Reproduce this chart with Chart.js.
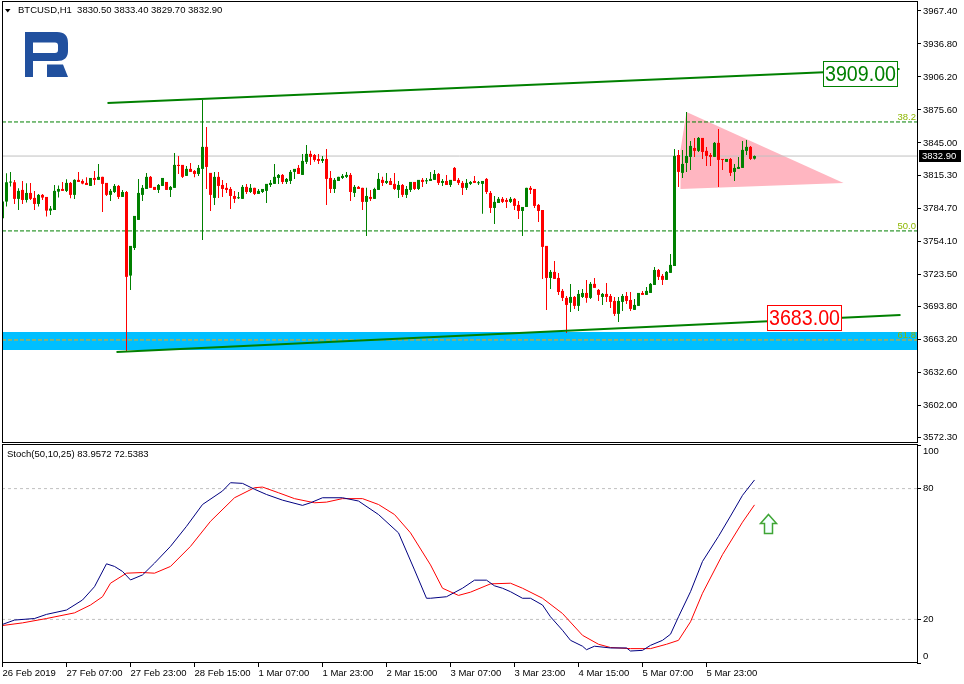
<!DOCTYPE html>
<html>
<head>
<meta charset="utf-8">
<title>BTCUSD H1</title>
<script src="https://cdn.jsdelivr.net/npm/chart.js"></script>
<style>
  html, body { margin: 0; padding: 0; background: #fff; }
  #wrap { position: relative; width: 964px; height: 684px; overflow: hidden; }
  canvas { position: absolute; left: 0; }
  #priceCanvas { top: 0; }
  #stochCanvas { top: 444px; }
</style>
</head>
<body>
<div id="wrap">
  <canvas id="priceCanvas" width="964" height="444"></canvas>
  <canvas id="stochCanvas" width="964" height="240"></canvas>
</div>
<script>
// ============================================================
// BTCUSD H1 — candles + Stochastic (Chart.js)
// ============================================================

const FONT  = '"Liberation Sans", Arial, sans-serif';
const GREEN = '#008000';
const RED   = '#FF0000';

// ---- Hourly candles, 26 Feb 15:00 -> 6 Mar 11:00 ----
const opens = [
  3775.2,3790.7,3808.3,3808.6,3793.2,3801.5,3792.2,3798.7,3794.1,3788.5,
  3796.9,3795.0,3782.3,3782.9,3799.9,3802.4,3800.6,3808.0,3796.9,3810.8,
  3809.8,3808.0,3805.2,3812.6,3810.8,3813.6,3808.0,3796.9,3799.6,3805.2,
  3795.0,3799.6,3722.1,3747.7,3773.7,3796.9,3802.4,3813.6,3804.3,3801.5,
  3805.2,3808.9,3801.5,3803.4,3824.7,3824.7,3814.5,3821.0,3819.1,3816.3,
  3821.0,3841.4,3817.3,3794.1,3813.6,3806.1,3803.4,3802.4,3795.9,3793.8,
  3793.2,3804.3,3799.6,3803.4,3797.8,3799.6,3800.6,3806.1,3807.1,3812.6,
  3815.4,3808.9,3809.8,3818.2,3821.9,3815.4,3827.5,3834.9,3833.9,3830.2,
  3828.4,3830.2,3812.6,3802.4,3809.8,3812.6,3813.6,3815.4,3798.7,3804.3,
  3803.4,3790.4,3795.0,3793.2,3801.5,3810.8,3808.0,3809.8,3807.1,3801.5,
  3806.1,3796.9,3801.5,3808.9,3802.4,3810.8,3809.5,3809.8,3810.8,3816.3,
  3808.0,3809.8,3806.1,3821.9,3810.8,3808.0,3803.4,3807.1,3809.8,3807.7,
  3807.1,3811.7,3798.7,3784.8,3789.4,3793.2,3792.2,3790.4,3793.2,3787.6,
  3782.0,3785.7,3803.4,3802.4,3787.6,3782.9,3749.6,3719.9,3725.5,3719.9,
  3707.9,3701.4,3696.8,3702.3,3694.0,3702.3,3706.0,3701.4,3714.4,3708.8,
  3702.3,3705.1,3703.2,3698.6,3686.6,3697.7,3703.2,3699.5,3690.3,3694.0,
  3706.0,3704.2,3706.0,3713.4,3727.3,3721.8,3718.1,3724.6,3731.0,3833.9,
  3817.3,3826.5,3832.1,3840.4,3837.7,3849.7,3837.7,3833.9,3832.1,3845.1,
  3830.2,3827.5,3830.2,3818.2,3821.0,3821.9,3837.7,3841.4,3830.5
];
const highs = [
  3792.2,3817.0,3818.2,3810.8,3803.0,3809.8,3807.7,3808.0,3800.6,3797.8,
  3797.8,3795.0,3786.7,3806.1,3805.5,3808.9,3811.4,3808.9,3811.4,3818.2,
  3811.4,3813.2,3812.6,3819.1,3825.6,3813.6,3808.0,3802.4,3807.1,3806.1,
  3801.5,3800.6,3749.6,3777.4,3811.7,3806.1,3817.3,3814.5,3804.3,3807.1,
  3812.6,3808.9,3805.2,3835.8,3833.0,3824.7,3823.7,3826.5,3820.0,3824.7,
  3884.9,3859.9,3817.3,3818.2,3818.2,3810.8,3808.0,3804.3,3800.6,3799.6,
  3806.1,3807.1,3807.1,3803.4,3802.4,3802.4,3807.1,3810.8,3825.6,3816.3,
  3816.3,3812.6,3820.0,3821.0,3824.7,3834.9,3843.2,3837.7,3834.9,3834.9,
  3833.0,3839.5,3819.1,3812.6,3813.6,3816.3,3818.2,3817.3,3806.1,3805.2,
  3803.4,3803.4,3801.5,3803.4,3817.3,3813.6,3817.3,3812.6,3817.3,3809.8,
  3807.1,3805.2,3808.9,3808.9,3810.8,3812.6,3812.6,3818.2,3820.0,3817.3,
  3811.7,3815.4,3810.8,3822.8,3812.6,3809.8,3811.7,3809.8,3814.5,3809.8,
  3809.8,3812.6,3800.6,3795.9,3795.0,3795.0,3794.1,3795.0,3794.1,3791.3,
  3785.7,3803.4,3805.2,3802.4,3788.5,3782.9,3749.6,3727.3,3735.7,3724.6,
  3709.7,3703.2,3714.4,3703.2,3708.8,3709.7,3718.1,3716.2,3719.9,3709.7,
  3706.0,3715.3,3705.1,3702.3,3702.3,3705.1,3706.9,3706.9,3700.5,3706.0,
  3707.9,3711.6,3715.3,3730.1,3728.3,3723.6,3726.4,3742.2,3839.5,3838.6,
  3838.6,3873.8,3846.9,3849.7,3850.6,3849.7,3841.4,3835.8,3846.0,3858.0,
  3830.2,3830.2,3831.2,3825.6,3832.1,3846.9,3847.8,3842.3,3833.4
];
const lows = [
  3773.7,3786.1,3804.6,3788.5,3782.9,3788.5,3789.8,3792.2,3782.9,3786.1,
  3792.2,3776.8,3778.3,3782.9,3794.4,3800.6,3799.6,3793.8,3793.2,3808.9,
  3806.8,3806.1,3805.2,3806.1,3810.8,3781.1,3795.9,3791.3,3798.7,3793.2,
  3795.0,3651.6,3708.8,3745.9,3773.7,3791.3,3802.4,3803.4,3801.5,3798.7,
  3805.2,3801.5,3795.0,3803.4,3816.3,3812.6,3814.5,3818.2,3813.2,3814.5,
  3755.1,3802.4,3782.0,3787.6,3794.1,3795.0,3798.7,3783.9,3789.4,3793.2,
  3793.2,3797.8,3798.7,3796.9,3797.8,3798.7,3789.4,3804.3,3807.1,3807.1,
  3807.1,3807.1,3807.1,3811.7,3816.3,3815.4,3825.6,3824.7,3827.5,3825.6,
  3826.5,3787.6,3798.7,3798.7,3809.8,3811.7,3812.6,3791.3,3795.0,3802.4,
  3782.9,3758.9,3791.3,3793.2,3801.5,3805.2,3807.1,3806.1,3801.5,3794.1,
  3795.0,3794.1,3799.6,3801.5,3801.5,3804.3,3807.1,3809.8,3810.8,3806.1,
  3805.2,3806.1,3804.3,3809.8,3806.1,3796.9,3801.5,3806.1,3808.0,3806.1,
  3779.3,3797.8,3780.2,3770.0,3789.4,3789.4,3784.8,3789.4,3782.9,3774.6,
  3758.9,3785.7,3797.8,3784.8,3771.8,3719.0,3690.3,3709.7,3719.0,3704.2,
  3698.6,3668.9,3688.4,3691.2,3689.3,3701.4,3696.8,3700.5,3710.7,3698.6,
  3694.9,3697.7,3692.1,3684.7,3679.1,3689.3,3695.8,3689.3,3690.3,3694.0,
  3704.2,3704.2,3706.0,3713.4,3718.1,3713.4,3718.1,3724.6,3731.0,3804.3,
  3812.6,3818.2,3820.0,3832.1,3836.7,3830.2,3823.7,3823.7,3832.1,3804.3,
  3820.0,3827.5,3814.5,3809.8,3821.0,3821.9,3833.9,3829.3,3829.7
];
const closes = [
  3790.7,3808.6,3808.9,3793.2,3800.6,3792.2,3798.7,3793.2,3788.5,3796.9,
  3794.4,3782.3,3784.2,3800.6,3802.4,3800.6,3808.0,3796.9,3810.8,3808.9,
  3807.4,3806.1,3812.6,3810.8,3813.6,3807.1,3796.9,3800.6,3805.2,3795.0,
  3799.6,3720.9,3749.6,3777.4,3798.7,3803.4,3813.6,3803.4,3801.5,3806.1,
  3812.6,3801.5,3804.3,3824.7,3823.7,3813.6,3821.0,3818.2,3816.3,3821.9,
  3841.4,3822.8,3796.9,3813.6,3805.2,3802.4,3801.5,3795.9,3793.2,3794.1,
  3804.3,3799.6,3803.4,3797.8,3800.6,3802.4,3807.1,3808.0,3813.6,3815.4,
  3808.9,3811.7,3818.2,3821.0,3816.3,3828.4,3834.9,3832.1,3829.3,3828.4,
  3830.2,3811.7,3802.4,3810.8,3813.6,3814.5,3815.4,3799.6,3804.3,3802.4,
  3790.4,3795.9,3793.2,3802.4,3811.7,3808.0,3809.8,3806.1,3802.4,3806.1,
  3796.9,3802.4,3808.9,3802.4,3810.8,3808.9,3810.5,3811.7,3816.3,3808.0,
  3809.8,3806.1,3810.8,3809.8,3808.0,3803.4,3808.0,3808.9,3808.0,3808.3,
  3809.8,3799.6,3784.8,3790.4,3793.2,3790.4,3790.4,3793.2,3786.7,3782.0,
  3785.7,3803.4,3801.5,3786.7,3782.0,3748.7,3719.9,3725.5,3719.0,3706.9,
  3701.4,3694.9,3702.3,3694.0,3705.1,3706.0,3701.4,3714.4,3710.7,3704.2,
  3705.1,3702.3,3697.7,3686.6,3698.6,3703.2,3698.6,3691.2,3694.9,3706.0,
  3704.2,3707.9,3714.4,3727.3,3720.9,3718.1,3725.5,3732.0,3833.0,3818.2,
  3825.6,3833.0,3842.3,3837.7,3849.7,3836.7,3833.0,3832.1,3845.1,3829.3,
  3829.3,3830.2,3817.3,3821.9,3822.8,3838.6,3841.4,3830.2,3832.9
];

// ---- Axes ----
const priceTicks = [3967.4, 3936.8, 3906.2, 3875.6, 3845.0, 3815.3, 3784.7,
                    3754.1, 3723.5, 3693.8, 3663.2, 3632.6, 3602.0, 3572.3];
const timeTickBars = [0, 16, 32, 48, 64, 80, 96, 112, 128, 144, 160, 176];
const timeTickLabels = ['26 Feb 2019', '27 Feb 07:00', '27 Feb 23:00', '28 Feb 15:00',
                        '1 Mar 07:00', '1 Mar 23:00', '2 Mar 15:00', '3 Mar 07:00',
                        '3 Mar 23:00', '4 Mar 15:00', '5 Mar 07:00', '5 Mar 23:00'];
const stochTicks = [0, 20, 80, 100];

// ---- Stochastic(50,10,25) ----
const mainBars = [0,3,8,11,16,20,23,26,28,30,32,35,38,42,46,50,55,57,60,63,
                  66,70,75,77,80,85,89,94,99,103,106,107,111,115,118,121,123,125,127,130,
                  132,135,137,140,142,145,146,148,152,156,157,160,162,165,167,169,172,175,179,182,
                  185,188];
const mainVals = [17.7,19.7,20.4,22.3,24.3,28.9,35.0,45.5,44.3,42.0,38.1,40.4,45.8,53.5,62.7,72.7,78.9,82.7,82.4,79.7,
                  77.3,74.7,72.3,73.5,75.8,75.8,74.3,68.1,59.7,42.7,29.7,29.7,30.4,34.3,38.0,38.0,35.4,34.3,32.7,29.7,
                  29.7,26.6,21.2,15.0,10.4,7.7,6.1,7.7,6.9,6.9,5.5,5.8,8.1,10.4,13.2,21.2,32.7,46.6,58.1,67.4,
                  76.9,83.96];
const signalBars = [0,5,11,18,22,25,27,31,35,38,42,47,52,58,63,65,69,73,78,81,
                    85,90,94,98,102,107,110,114,117,122,127,130,135,140,145,149,152,157,162,166,
                    169,172,175,180,185,188];
const signalVals = [17.2,18.4,20.4,23.0,26.6,30.4,36.6,41.2,41.5,41.2,44.3,53.5,65.0,75.8,80.4,80.7,78.1,75.4,73.5,73.8,
                    75.4,75.4,72.7,68.1,59.7,45.0,34.3,31.0,32.5,36.3,36.6,34.3,29.7,22.7,12.7,8.6,7.1,6.6,6.6,8.6,
                    10.4,18.9,32.0,49.7,64.6,72.54];
const stochLevels = [20, 80];

// ---- Drawn objects (bar index / price) ----
const fibLevels = [38.2, 50.0, 61.8];
const fibPrices = [3864.5, 3763.5, 3662.4];
const fibColors = [GREEN, GREEN, '#FFA500'];
const upperTrendBars = [26.25, 224.25];
const upperTrendPrices = [3882.1, 3913.6];
const lowerTrendBars = [28.5, 224.5];
const lowerTrendPrices = [3651.3, 3685.6];
const bandPrices = [3653.1, 3669.8];
const triangleBars = [171, 169.5, 169.5, 210.25];
const trianglePrices = [3873.8, 3838.5, 3802.4, 3807.9];
const levelBoxBars = [205, 191.1];
const levelBoxPrices = [3909.0, 3683.0];
const levelBoxColors = [GREEN, RED];
const lastPrice = closes[closes.length - 1];

// scale extents
const X_MIN = -0.125, X_MAX = 228.625;
const PRICE_MIN = 3566.9, PRICE_MAX = 3975.7;

const barIdx = opens.map((o, i) => i);
const candleColors = barIdx.map(i => closes[i] >= opens[i] ? GREEN : RED);

function fixedAxis(size, vertical) {
  return scale => {
    if (vertical) scale.width = size; else scale.height = size;
    scale.paddingTop = scale.paddingBottom = scale.paddingLeft = scale.paddingRight = 0;
  };
}

function hLine(value, color, dash, order) {
  return {
    type: 'line', data: [{ x: X_MIN, y: value }, { x: X_MAX, y: value }],
    borderColor: color, borderWidth: 1, borderDash: dash, pointRadius: 0, fill: false, order
  };
}

function frame(ctx, a) {
  ctx.save();
  ctx.strokeStyle = '#000';
  ctx.lineWidth = 1;
  ctx.strokeRect(a.left + 0.5, a.top - 0.5, a.right - a.left, a.bottom - a.top);
  ctx.restore();
}

// ---- Price panel decorations ----
const priceDecor = {
  id: 'priceDecor',
  beforeDatasetsDraw(chart) {
    const { ctx, chartArea: a, scales: { x, y } } = chart;
    ctx.save();
    ctx.beginPath();
    ctx.rect(a.left, a.top, a.right - a.left, a.bottom - a.top);
    ctx.clip();

    const yTop = Math.round(y.getPixelForValue(bandPrices[1]));
    const yBot = Math.round(y.getPixelForValue(bandPrices[0]));
    ctx.fillStyle = '#00BFFF';
    ctx.fillRect(a.left, yTop, a.right - a.left, yBot - yTop);

    ctx.fillStyle = '#FFB6C1';
    ctx.beginPath();
    triangleBars.forEach((b, k) => {
      const px = x.getPixelForValue(b), py = y.getPixelForValue(trianglePrices[k]);
      k ? ctx.lineTo(px, py) : ctx.moveTo(px, py);
    });
    ctx.closePath();
    ctx.fill();

    // broker logo
    ctx.fillStyle = '#21509E';
    ctx.beginPath();
    ctx.moveTo(25, 32); ctx.lineTo(57, 32);
    ctx.quadraticCurveTo(68, 32, 68, 43);
    ctx.lineTo(68, 51);
    ctx.quadraticCurveTo(68, 61, 57, 61);
    ctx.lineTo(33, 61); ctx.lineTo(33, 77); ctx.lineTo(25, 77);
    ctx.closePath();
    ctx.moveTo(33, 42.5); ctx.lineTo(55, 42.5);
    ctx.quadraticCurveTo(58, 42.5, 58, 45.5);
    ctx.lineTo(58, 50); ctx.quadraticCurveTo(58, 53, 55, 53);
    ctx.lineTo(33, 53); ctx.closePath();
    ctx.fill('evenodd');
    ctx.beginPath();
    ctx.moveTo(47, 64.5); ctx.lineTo(63, 64.5); ctx.lineTo(68, 77); ctx.lineTo(47, 77);
    ctx.closePath();
    ctx.fill();
    ctx.restore();
  },
  afterDatasetsDraw(chart) {
    const { ctx, chartArea: a, scales: { x, y } } = chart;
    ctx.save();
    ctx.font = `9.5px ${FONT}`;
    ctx.textAlign = 'right';
    ctx.textBaseline = 'alphabetic';
    ctx.fillStyle = '#8DB600';
    fibLevels.forEach((lv, k) => {
      ctx.fillText(lv.toFixed(1), a.right - 1, y.getPixelForValue(fibPrices[k]) - 2);
    });

    levelBoxBars.forEach((b, k) => {
      const left = Math.round(x.getPixelForValue(b)) + 0.5;
      const cy = y.getPixelForValue(levelBoxPrices[k]);
      const top = Math.round(cy - 12.5) + 0.5;
      ctx.fillStyle = '#fff';
      ctx.fillRect(left, top, 74, 25);
      ctx.strokeStyle = levelBoxColors[k];
      ctx.lineWidth = 1;
      ctx.strokeRect(left, top, 74, 25);
      ctx.fillStyle = levelBoxColors[k];
      ctx.font = `22px ${FONT}`;
      ctx.textAlign = 'center';
      ctx.textBaseline = 'middle';
      ctx.fillText(levelBoxPrices[k].toFixed(2), left + 37, top + 13.5, 71);
    });
    ctx.restore();
  },
  afterDraw(chart) {
    const { ctx, chartArea: a, scales: { y } } = chart;
    frame(ctx, a);
    ctx.save();
    // symbol header
    ctx.fillStyle = '#000';
    ctx.beginPath();
    ctx.moveTo(5, 9); ctx.lineTo(10.5, 9); ctx.lineTo(7.75, 12.5);
    ctx.closePath();
    ctx.fill();
    const n = closes.length - 1;
    ctx.font = `9.5px ${FONT}`;
    ctx.textBaseline = 'middle';
    ctx.fillText(`BTCUSD,H1  ${opens[n].toFixed(2)} ${highs[n].toFixed(2)} ${lows[n].toFixed(2)} ${closes[n].toFixed(2)}`, 18, 10.5);
    // last price tag
    const py = Math.round(y.getPixelForValue(lastPrice));
    ctx.fillStyle = '#000';
    ctx.fillRect(919, py - 6, 42, 12);
    ctx.fillStyle = '#fff';
    ctx.fillText(lastPrice.toFixed(2), 922, py + 0.5);
    ctx.restore();
  }
};

new Chart(document.getElementById('priceCanvas'), {
  type: 'bar',
  data: {
    datasets: [
      {
        type: 'line', data: upperTrendBars.map((b, k) => ({ x: b, y: upperTrendPrices[k] })),
        borderColor: GREEN, borderWidth: 2, pointRadius: 0, fill: false, order: 0
      },
      {
        type: 'line', data: lowerTrendBars.map((b, k) => ({ x: b, y: lowerTrendPrices[k] })),
        borderColor: GREEN, borderWidth: 2, pointRadius: 0, fill: false, order: 0
      },
      {
        data: barIdx.map(i => ({ x: i, y: [opens[i], closes[i]] })),
        backgroundColor: candleColors, barThickness: 3, maxBarThickness: 3,
        grouped: false, inflateAmount: 0, borderWidth: 0, minBarLength: 1, order: 1
      },
      {
        data: barIdx.map(i => ({ x: i, y: [lows[i], highs[i]] })),
        backgroundColor: candleColors, barThickness: 1, maxBarThickness: 1,
        grouped: false, inflateAmount: 0, borderWidth: 0, order: 2
      },
      ...fibPrices.map((p, k) => hLine(p, fibColors[k], [4, 2], 3)),
      hLine(lastPrice, '#C0C0C0', [], 4)
    ]
  },
  options: {
    responsive: false,
    animation: false,
    devicePixelRatio: 1,
    events: [],
    layout: { padding: { left: 2, top: 2, right: 0, bottom: 1 } },
    plugins: { legend: { display: false }, tooltip: { enabled: false } },
    scales: {
      x: { type: 'linear', display: false, min: X_MIN, max: X_MAX, offset: false },
      y: {
        type: 'linear', position: 'right', min: PRICE_MIN, max: PRICE_MAX,
        afterBuildTicks: s => { s.ticks = priceTicks.map(v => ({ value: v })); },
        afterFit: fixedAxis(47, true),
        grid: { drawOnChartArea: false, drawTicks: true, tickLength: 4, color: '#000' },
        border: { display: false },
        ticks: { color: '#000', padding: 2, font: { family: FONT, size: 9.5 }, callback: v => v.toFixed(2) }
      }
    }
  },
  plugins: [priceDecor]
});

// ---- Stochastic panel ----
const arrowBar = 191.25, arrowValue = 68.5;

const stochDecor = {
  id: 'stochDecor',
  afterDraw(chart) {
    const { ctx, chartArea: a, scales: { x, y } } = chart;
    frame(ctx, a);
    ctx.save();
    ctx.fillStyle = '#000';
    ctx.font = `9.5px ${FONT}`;
    ctx.textBaseline = 'middle';
    ctx.fillText('Stoch(50,10,25) 83.9572 72.5383', 7, 10);

    const tx = Math.round(x.getPixelForValue(arrowBar)) + 0.5;
    const ty = Math.round(y.getPixelForValue(arrowValue)) + 0.5;
    ctx.beginPath();
    ctx.moveTo(tx, ty);
    ctx.lineTo(tx + 8, ty + 9);
    ctx.lineTo(tx + 4, ty + 9);
    ctx.lineTo(tx + 4, ty + 19);
    ctx.lineTo(tx - 4, ty + 19);
    ctx.lineTo(tx - 4, ty + 9);
    ctx.lineTo(tx - 8, ty + 9);
    ctx.closePath();
    ctx.fillStyle = '#F4FFFF';
    ctx.fill();
    ctx.strokeStyle = '#3FA535';
    ctx.lineWidth = 1.5;
    ctx.stroke();
    ctx.restore();
  }
};

new Chart(document.getElementById('stochCanvas'), {
  type: 'line',
  data: {
    datasets: [
      {
        data: mainBars.map((b, k) => ({ x: b, y: mainVals[k] })),
        borderColor: '#000080', borderWidth: 1, pointRadius: 0, fill: false, order: 0
      },
      {
        data: signalBars.map((b, k) => ({ x: b, y: signalVals[k] })),
        borderColor: RED, borderWidth: 1, pointRadius: 0, fill: false, order: 1
      },
      ...stochLevels.map(v => hLine(v, '#C0C0C0', [3, 3], 2))
    ]
  },
  options: {
    responsive: false,
    animation: false,
    devicePixelRatio: 1,
    events: [],
    layout: { padding: { left: 2, top: 1, right: 0, bottom: 0 } },
    plugins: { legend: { display: false }, tooltip: { enabled: false } },
    scales: {
      x: {
        type: 'linear', position: 'bottom', min: X_MIN, max: X_MAX, offset: false,
        afterBuildTicks: s => { s.ticks = timeTickBars.map(v => ({ value: v })); },
        afterFit: fixedAxis(21, false),
        grid: { drawOnChartArea: false, drawTicks: true, tickLength: 4, color: '#000' },
        border: { display: false },
        ticks: {
          color: '#000', padding: 1, align: 'start', autoSkip: false, maxRotation: 0, minRotation: 0,
          font: { family: FONT, size: 9.5 },
          callback: v => timeTickLabels[timeTickBars.indexOf(v)]
        }
      },
      y: {
        type: 'linear', position: 'right', min: 0, max: 100,
        afterBuildTicks: s => { s.ticks = stochTicks.map(v => ({ value: v })); },
        afterFit: fixedAxis(47, true),
        grid: { drawOnChartArea: false, drawTicks: true, tickLength: 4, color: '#000' },
        border: { display: false },
        ticks: {
          color: '#000', padding: 2, font: { family: FONT, size: 9.5, lineHeight: 1.4 },
          callback: v => v === 100 ? ['', '100'] : v === 0 ? ['0', ''] : String(v)
        }
      }
    }
  },
  plugins: [stochDecor]
});
</script>
</body>
</html>
